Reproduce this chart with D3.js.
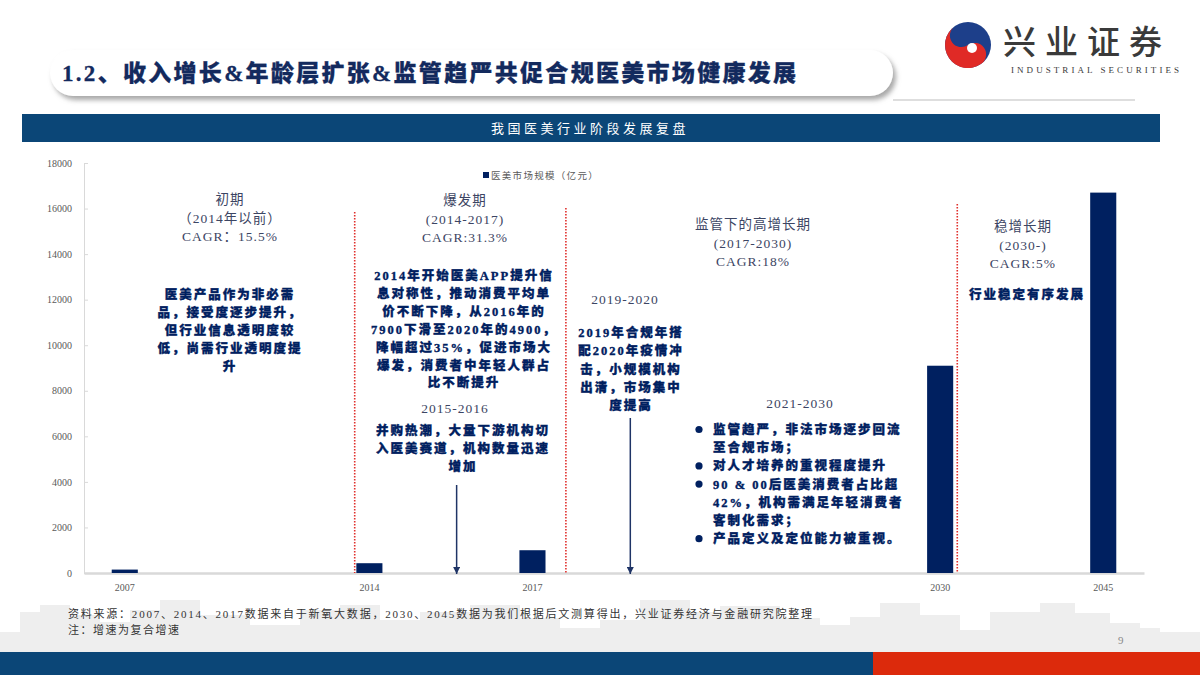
<!DOCTYPE html>
<html><head><meta charset="utf-8">
<script src="https://cdn.jsdelivr.net/npm/d3@7"></script>
<style>body{margin:0;background:#fff}svg{display:block}</style>
</head><body><svg id="c" width="1200" height="675"></svg>
<script>
// ---------- DATA ----------
const slotLabels = ["2007","","","2014","","2017","","","","","2030","","2045"];
const marketSize = [150,null,null,430,null,1000,null,null,null,null,9100,null,16700];
const yTicks = [0,2000,4000,6000,8000,10000,12000,14000,16000,18000];
const seriesName = "医美市场规模（亿元）";
const pageTitle = "1.2、收入增长&年龄层扩张&监管趋严共促合规医美市场健康发展";
const chartTitle = "我国医美行业阶段发展复盘";
const sourceNote = "资料来源：2007、2014、2017数据来自于新氧大数据，2030、2045数据为我们根据后文测算得出，兴业证券经济与金融研究院整理";
const note2 = "注：增速为复合增速";

// ---------- SETUP ----------
const SERIF = "'Liberation Serif','Noto Sans CJK SC',serif";
const NAVY = "#002060", GRAYTXT = "#3c4563", BAND = "#0b4677", RED = "#dc2a0c";
const svg = d3.select("#c");
const defs = svg.append("defs");
const f = defs.append("filter").attr("id","sh").attr("x","-5%").attr("y","-30%").attr("width","115%").attr("height","180%");
f.append("feDropShadow").attr("dx",3).attr("dy",4).attr("stdDeviation",2.5).attr("flood-color","#8a8a8a").attr("flood-opacity",0.75);

// skyline decoration
svg.append("path").attr("fill","#eeeeee")
  .attr("d","M0,652 V632 H20 V612 H40 V605 H70 V615 H100 V622 H130 V610 H160 V600 H200 V615 H250 V625 H300 V610 H340 V605 H380 V620 H420 V612 H470 V605 H520 V618 H560 V628 H600 V620 H640 V600 H690 V612 H720 V606 H780 V618 H820 V625 H850 V617 H880 V603 H920 V615 H960 V630 H990 V612 H1040 V603 H1075 V613 H1110 V623 H1140 V628 H1160 V632 H1200 V652 Z");

// header pill
svg.append("rect").attr("x",50).attr("y",50).attr("width",843).attr("height",46).attr("rx",23)
  .attr("fill","#fff").attr("filter","url(#sh)");
svg.append("text").attr("x",62).attr("y",81).attr("font-family",SERIF).attr("font-weight",900)
  .attr("font-size",23).attr("fill","#132a5e").attr("stroke","#132a5e").attr("stroke-width",0.3)
  .attr("letter-spacing",2.3).text(pageTitle);
svg.append("line").attr("x1",893).attr("x2",1135).attr("y1",100).attr("y2",100).attr("stroke","#bdbdbd").attr("stroke-width",1);

// logo
const lc = [968,45], R = 23;
svg.append("circle").attr("cx",lc[0]).attr("cy",lc[1]).attr("r",R).attr("fill","#1d3f8a");
svg.append("path").attr("fill","#e02a26")
  .attr("d",`M${lc[0]},${lc[1]-R} A${R},${R} 0 0,0 ${lc[0]},${lc[1]+R} A${R/2},${R/2} 0 0,0 ${lc[0]},${lc[1]} A${R/2},${R/2} 0 0,1 ${lc[0]},${lc[1]-R} Z`)
  .attr("transform",`rotate(-35,${lc[0]},${lc[1]})`);
svg.append("circle").attr("cx",lc[0]+4).attr("cy",lc[1]+3).attr("r",5).attr("fill","#fff");
svg.append("text").attr("x",1003).attr("y",54).attr("font-family","'Noto Sans CJK SC'").attr("font-weight",500)
  .attr("font-size",33).attr("fill","#3a3a3a").attr("letter-spacing",9).text("兴业证券");
svg.append("text").attr("x",1011).attr("y",73).attr("font-family",SERIF).attr("font-size",9)
  .attr("fill","#3a3a3a").attr("textLength",168).text("INDUSTRIAL SECURITIES");

// blue band
svg.append("rect").attr("x",22).attr("y",114).attr("width",1138).attr("height",28).attr("fill",BAND);
svg.append("text").attr("x",590).attr("y",133).attr("text-anchor","middle").attr("font-family",SERIF)
  .attr("font-size",13).attr("fill","#fff").attr("letter-spacing",3.5).text(chartTitle);

// ---------- CHART ----------
const x = d3.scaleBand().domain(d3.range(slotLabels.length)).range([84,1144]).paddingInner(0.68).paddingOuter(0.34);
const y = d3.scaleLinear().domain([0,18000]).range([573,163]);
const xs = d3.scaleLinear().domain([0,slotLabels.length]).range([84,1144]); // continuous slot position for annotations

const yAxis = svg.append("g").attr("transform","translate(84,0)")
  .call(d3.axisLeft(y).tickValues(yTicks).tickSize(-4).tickPadding(12).tickFormat(d3.format("d")));
yAxis.select(".domain").attr("stroke","#d9d9d9");
yAxis.selectAll(".tick line").attr("stroke","#d9d9d9");
yAxis.selectAll("text").attr("font-family",SERIF).attr("font-size",10).attr("fill","#595959");

const xAxis = svg.append("g").attr("transform","translate(0,573)")
  .call(d3.axisBottom(x).tickSize(0).tickPadding(11).tickFormat(i => slotLabels[i]));
xAxis.select(".domain").attr("stroke","#d9d9d9").attr("stroke-width",2.5);
xAxis.selectAll("text").attr("font-family",SERIF).attr("font-size",10).attr("fill","#595959");

svg.append("g").selectAll("rect").data(marketSize.map((v,i)=>({v,i})).filter(d=>d.v!=null))
  .join("rect").attr("x",d=>x(d.i)).attr("width",x.bandwidth())
  .attr("y",d=>y(d.v)).attr("height",d=>y(0)-y(d.v)).attr("fill",NAVY);

// legend
svg.append("rect").attr("x",483).attr("y",172).attr("width",6).attr("height",6).attr("fill",NAVY);
svg.append("text").attr("x",491).attr("y",178.5).attr("font-family",SERIF).attr("font-size",9.5)
  .attr("fill","#595959").attr("letter-spacing",1.3).text(seriesName);

// phase divider lines (red dotted)
const dividers = [{s:3.32,top:212},{s:5.91,top:208},{s:10.71,top:204}];
svg.append("g").selectAll("line").data(dividers).join("line")
  .attr("x1",d=>xs(d.s)).attr("x2",d=>xs(d.s)).attr("y1",d=>d.top).attr("y2",573)
  .attr("stroke","#e0302c").attr("stroke-width",1.6).attr("stroke-dasharray","1.5,1.5");

// arrows
const arr = defs.append("marker").attr("id","ah").attr("viewBox","0 0 10 10").attr("refX",10).attr("refY",5)
  .attr("markerWidth",5).attr("markerHeight",5).attr("orient","auto").attr("markerUnits","strokeWidth");
arr.append("path").attr("d","M0,0 L10,5 L0,10 Z").attr("fill","#1f3466");
const arrows = [{s:4.57,top:485},{s:6.70,top:418}];
svg.append("g").selectAll("line").data(arrows).join("line")
  .attr("x1",d=>xs(d.s)).attr("x2",d=>xs(d.s)).attr("y1",d=>d.top).attr("y2",574)
  .attr("stroke","#1f3466").attr("stroke-width",1.5).attr("marker-end","url(#ah)");

// ---------- ANNOTATIONS ----------
function block(lines, cx, y0, lh, opts){
  const t = svg.append("text").attr("font-family",SERIF).attr("text-anchor",opts.anchor||"middle")
    .attr("font-size",opts.size).attr("font-weight",opts.bold?900:400).attr("fill",opts.color)
    .attr("letter-spacing",opts.ls||0);
  if (opts.bold) t.attr("stroke",opts.color).attr("stroke-width",0.35);
  lines.forEach((s,i)=>t.append("tspan").attr("x",cx).attr("y",y0+i*lh).text(s));
}
const GR = {size:13.5,color:GRAYTXT,ls:1};
const BD = {size:12.5,color:NAVY,bold:true,ls:2};

block(["初期","（2014年以前）","CAGR：15.5%"],230,204,18.5,GR);
block(["医美产品作为非必需","品，接受度逐步提升，","但行业信息透明度较","低，尚需行业透明度提","升"],230,299,18,BD);

block(["爆发期","(2014-2017)","CAGR:31.3%"],465,205,18.5,GR);
block(["2014年开始医美APP提升信","息对称性，推动消费平均单","价不断下降，从2016年的","7900下滑至2020年的4900，","降幅超过35%，促进市场大","爆发，消费者中年轻人群占","比不断提升"],464,280,17.9,BD);
block(["2015-2016"],455,413,18,GR);
block(["并购热潮，大量下游机构切","入医美赛道，机构数量迅速","增加"],463,435,18,BD);

block(["2019-2020"],625,304,18,GR);
block(["2019年合规年搭","配2020年疫情冲","击，小规模机构","出清，市场集中","度提高"],631,337,18.3,BD);

block(["监管下的高增长期","(2017-2030)","CAGR:18%"],753,229,18.5,GR);
block(["2021-2030"],800,408,18,GR);
block(["监管趋严，非法市场逐步回流","至合规市场；","对人才培养的重视程度提升","90 & 00后医美消费者占比超","42%，机构需满足年轻消费者","客制化需求；","产品定义及定位能力被重视。"],713,434,18.2,Object.assign({anchor:"start"},BD));
const bulletRows = [0,2,3,6];
svg.append("g").selectAll("circle").data(bulletRows).join("circle")
  .attr("cx",699).attr("cy",r=>429.5+r*18.2).attr("r",3.6).attr("fill",NAVY);

block(["稳增长期","(2030-)","CAGR:5%"],1023,231,18.5,GR);
block(["行业稳定有序发展"],1027,299,18,BD);

// ---------- FOOTER ----------
svg.append("text").attr("x",68).attr("y",618).attr("font-family",SERIF).attr("font-size",11)
  .attr("fill","#333").attr("textLength",744).attr("lengthAdjust","spacing").text(sourceNote);
svg.append("text").attr("x",68).attr("y",634).attr("font-family",SERIF).attr("font-size",11)
  .attr("fill","#333").attr("letter-spacing",1.5).text(note2);
svg.append("text").attr("x",1118).attr("y",644).attr("font-family",SERIF).attr("font-size",11)
  .attr("fill","#8a8a8a").text("9");
svg.append("rect").attr("x",0).attr("y",652).attr("width",873).attr("height",23).attr("fill",BAND);
svg.append("rect").attr("x",873).attr("y",652).attr("width",327).attr("height",23).attr("fill",RED);
</script></body></html>
